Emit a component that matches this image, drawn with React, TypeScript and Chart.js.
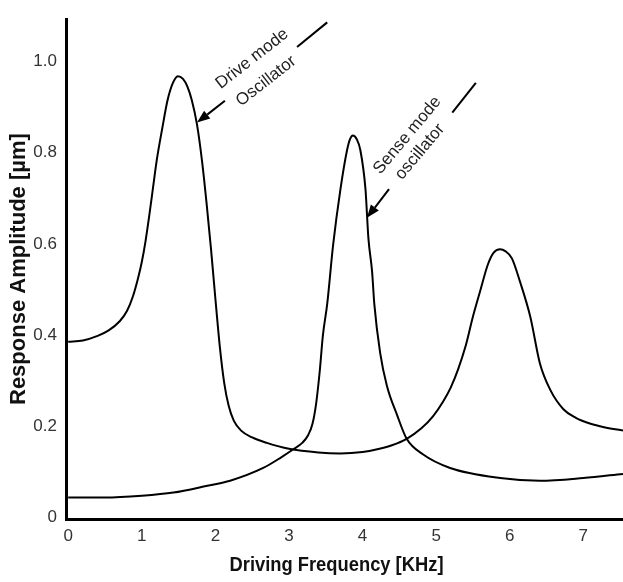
import React, { useEffect, useRef } from "react";
import { Chart, registerables } from "chart.js";

Chart.register(...registerables);

// Driving frequency [KHz] and response amplitude [µm]
const driveX = [0, 0.2, 0.4, 0.55, 0.7, 0.8, 0.88, 0.95, 1.0, 1.05, 1.1, 1.15, 1.2, 1.28, 1.35, 1.42, 1.49, 1.56, 1.62, 1.68, 1.75, 1.82, 1.88, 1.94, 2.0, 2.06, 2.12, 2.18, 2.25, 2.35, 2.5, 2.7, 3.0, 3.4, 3.7, 4.0, 4.2, 4.4, 4.6, 4.8, 4.96, 5.1, 5.2, 5.3, 5.4, 5.5, 5.6, 5.7, 5.78, 5.87, 5.94, 6.03, 6.14, 6.28, 6.41, 6.55, 6.73, 6.9, 7.1, 7.3, 7.54];
const driveY = [0.385, 0.388, 0.398, 0.41, 0.43, 0.453, 0.485, 0.525, 0.56, 0.605, 0.66, 0.72, 0.78, 0.855, 0.915, 0.952, 0.968, 0.962, 0.945, 0.915, 0.862, 0.78, 0.69, 0.59, 0.48, 0.375, 0.295, 0.245, 0.212, 0.19, 0.175, 0.163, 0.15, 0.142, 0.14, 0.143, 0.149, 0.158, 0.172, 0.195, 0.222, 0.255, 0.285, 0.325, 0.375, 0.44, 0.497, 0.553, 0.58, 0.588, 0.584, 0.568, 0.517, 0.44, 0.338, 0.28, 0.237, 0.218, 0.205, 0.197, 0.19];

const senseX = [0, 0.5, 1.0, 1.43, 1.89, 2.2, 2.65, 2.9, 3.06, 3.18, 3.26, 3.32, 3.37, 3.42, 3.46, 3.52, 3.6, 3.7, 3.79, 3.83, 3.87, 3.92, 3.97, 4.04, 4.08, 4.13, 4.16, 4.24, 4.33, 4.47, 4.6, 4.82, 5.19, 5.87, 6.41, 7.0, 7.54];
const senseY = [0.043, 0.043, 0.047, 0.054, 0.069, 0.08, 0.108, 0.132, 0.149, 0.163, 0.18, 0.205, 0.25, 0.323, 0.397, 0.468, 0.597, 0.72, 0.806, 0.83, 0.838, 0.83, 0.806, 0.72, 0.612, 0.539, 0.468, 0.36, 0.289, 0.224, 0.172, 0.138, 0.108, 0.086, 0.08, 0.086, 0.095];

const xTicks = [0, 1, 2, 3, 4, 5, 6, 7];
const yTicks = [0, 0.2, 0.4, 0.6, 0.8, 1.0];
const yTickLabels = ["0", "0.2", "0.4", "0.6", "0.8", "1.0"];

const xTitle = "Driving Frequency [KHz]";
const yTitle = "Response Amplitude [µm]";

// Annotations (data units)
const annoLabels = [["Drive mode", "Oscillator"], ["Sense mode", "oscillator"]];
const annoTip = [[1.75, 0.866], [4.06, 0.657]];
const annoTail = [[2.13, 0.914], [4.36, 0.72]];
const annoDashFrom = [[3.11, 1.032], [5.22, 0.888]];
const annoDashTo = [[3.52, 1.086], [5.54, 0.953]];
const annoText1 = [[2.5, 1.006], [4.61, 0.838]];
const annoText2 = [[2.69, 0.957], [4.78, 0.802]];
const annoAngle = [-38, -50];

const tickFont = "'Liberation Sans', Arial, sans-serif";

const annotationPlugin = {
  id: "annos",
  afterDatasetsDraw(chart: any) {
    const { ctx, scales, chartArea } = chart;
    const xs = scales.x;
    const ys = scales.y;
    const px = (p: number[]) => [xs.getPixelForValue(p[0]), ys.getPixelForValue(p[1])];
    ctx.save();
    for (let i = 0; i < annoLabels.length; i++) {
      const [tx, ty] = px(annoTip[i]);
      const [sx, sy] = px(annoTail[i]);
      const ang = Math.atan2(ty - sy, tx - sx);
      const headLen = 13;
      const headW = 5;
      const bx = tx - headLen * Math.cos(ang);
      const by = ty - headLen * Math.sin(ang);
      ctx.strokeStyle = "#000";
      ctx.fillStyle = "#000";
      ctx.lineWidth = 2;
      ctx.beginPath();
      ctx.moveTo(sx, sy);
      ctx.lineTo(bx, by);
      ctx.stroke();
      ctx.beginPath();
      ctx.moveTo(tx, ty);
      ctx.lineTo(bx + headW * Math.sin(ang), by - headW * Math.cos(ang));
      ctx.lineTo(bx - headW * Math.sin(ang), by + headW * Math.cos(ang));
      ctx.closePath();
      ctx.fill();
      const [d1x, d1y] = px(annoDashFrom[i]);
      const [d2x, d2y] = px(annoDashTo[i]);
      ctx.beginPath();
      ctx.moveTo(d1x, d1y);
      ctx.lineTo(d2x, d2y);
      ctx.stroke();
      ctx.fillStyle = "#222";
      ctx.font = "17px 'Liberation Sans', Arial, sans-serif";
      ctx.textAlign = "center";
      ctx.textBaseline = "middle";
      const texts = [annoText1[i], annoText2[i]];
      for (let j = 0; j < 2; j++) {
        const [cx, cy] = px(texts[j]);
        ctx.save();
        ctx.translate(cx, cy);
        ctx.rotate((annoAngle[i] * Math.PI) / 180);
        ctx.fillText(annoLabels[i][j], 0, 0);
        ctx.restore();
      }
    }
    // condensed bold x-axis title
    ctx.font = "bold 21px 'Liberation Sans', Arial, sans-serif";
    ctx.fillStyle = "#111";
    ctx.textAlign = "center";
    ctx.textBaseline = "middle";
    const w = ctx.measureText(xTitle).width;
    const k = 214 / w;
    ctx.save();
    ctx.translate((chartArea.left + chartArea.right) / 2 - 8, chartArea.bottom + 46);
    ctx.scale(k, 1);
    ctx.fillText(xTitle, 0, 0);
    ctx.restore();
    ctx.restore();
  },
};

export default function App() {
  const ref = useRef<HTMLCanvasElement>(null);
  useEffect(() => {
    const canvas = ref.current!;
    const chart = new Chart(canvas, {
      type: "line",
      data: {
        datasets: [
          {
            label: "Drive mode oscillator",
            data: driveX.map((x, i) => ({ x, y: driveY[i] })),
            borderColor: "#000",
            borderWidth: 2,
            pointRadius: 0,
            cubicInterpolationMode: "monotone",
            fill: false,
          },
          {
            label: "Sense mode oscillator",
            data: senseX.map((x, i) => ({ x, y: senseY[i] })),
            borderColor: "#000",
            borderWidth: 2,
            pointRadius: 0,
            cubicInterpolationMode: "monotone",
            fill: false,
          },
        ],
      },
      options: {
        animation: false,
        responsive: false,
        layout: { padding: { top: 10, right: 0, left: 0, bottom: 0 } },
        plugins: { legend: { display: false }, tooltip: { enabled: false } },
        scales: {
          x: {
            type: "linear",
            min: -0.03,
            max: 7.54,
            grid: { display: false, drawTicks: false },
            border: { display: true, color: "#000", width: 3 },
            afterBuildTicks: (s: any) => {
              s.ticks = xTicks.map((v) => ({ value: v }));
            },
            afterFit: (s: any) => {
              s.height = 63;
            },
            ticks: {
              padding: 7,
              color: "#333",
              font: { family: tickFont, size: 17 },
              callback: (v: any) => String(v),
            },
            title: { display: false, text: xTitle },
          },
          y: {
            type: "linear",
            min: -0.004,
            max: 1.093,
            grid: { display: false, drawTicks: false },
            border: { display: true, color: "#000", width: 3 },
            afterBuildTicks: (s: any) => {
              s.ticks = yTicks.map((v) => ({ value: v }));
            },
            afterFit: (s: any) => {
              s.width = 66;
            },
            ticks: {
              padding: 9,
              color: "#333",
              font: { family: tickFont, size: 17 },
              callback: (v: any, i: number) => yTickLabels[i],
            },
            title: {
              display: true,
              text: yTitle,
              color: "#111",
              font: { family: "'Liberation Sans', Arial, sans-serif", size: 22, weight: "bold" },
              padding: { top: 6, bottom: 0 },
            },
          },
        },
      },
      plugins: [annotationPlugin],
    } as any);
    return () => chart.destroy();
  }, []);
  return (
    <div style={{ position: "absolute", left: 0, top: 0, width: 623, height: 582, background: "#fff" }}>
      <canvas ref={ref} width={623} height={582} style={{ display: "block" }} />
    </div>
  );
}
